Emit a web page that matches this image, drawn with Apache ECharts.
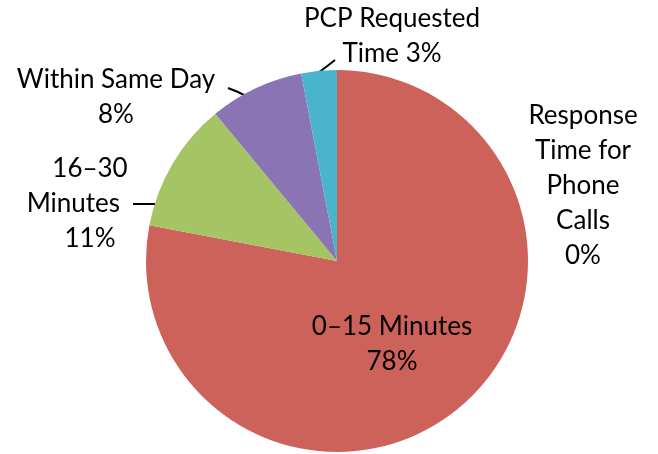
<!DOCTYPE html>
<html><head><meta charset="utf-8">
<script src="https://cdn.jsdelivr.net/npm/echarts@6/dist/echarts.min.js"></script>
<style>html,body{margin:0;padding:0;background:#fff}#c{width:658px;height:454px}</style>
</head><body><div id="c"></div>
<script>
// Data
const categories = ['Response Time for Phone Calls', '0–15 Minutes', '16–30 Minutes', 'Within Same Day', 'PCP Requested Time'];
const values = [0, 78, 11, 8, 3];
const labelTexts = ['Response\nTime for\nPhone\nCalls', '0–15 Minutes', '16–30\nMinutes\u00a0\u00a0\u00a0\u00a0\u00a0', 'Within Same Day', 'PCP Requested\nTime'];
const percentSep = ['\n', '\n', '\n', '\n', ' '];

// Styles
const colors = ['#CD625A', '#CD625A', '#A5C464', '#8A74B4', '#4AB4CC'];
const labelPos = [[583, 186], [392, 344], [90, 204], [116, 97], [392, 36]];
const leaderLines = [null, null, [[133, 204], [144, 204], [155, 204]], [[228, 88], [238, 92], [248, 97]], [[318, 73], [326, 67], [335, 60]]];

const chart = echarts.init(document.getElementById('c'), null, {renderer: 'canvas'});
chart.setOption({
  animation: false,
  series: [{
    type: 'pie',
    center: [337, 261],
    radius: 191,
    startAngle: 90,
    clockwise: true,
    avoidLabelOverlap: false,
    itemStyle: {borderWidth: 0},
    emphasis: {disabled: true},
    label: {
      show: true,
      fontFamily: 'Lato',
      fontSize: 26,
      lineHeight: 35,
      color: '#000',
      align: 'center',
      formatter: p => labelTexts[p.dataIndex] + percentSep[p.dataIndex] + Math.round(p.value) + '%'
    },
    labelLine: {show: true, length: 10, length2: 10, lineStyle: {color: '#000', width: 2}},
    labelLayout: function (params) {
      const i = params.dataIndex;
      const r = {x: labelPos[i][0], y: labelPos[i][1], align: 'center', verticalAlign: 'middle'};
      if (leaderLines[i]) r.labelLinePoints = leaderLines[i];
      return r;
    },
    data: categories.map((c, i) => ({
      name: c,
      value: values[i],
      itemStyle: {color: colors[i]},
      labelLine: {show: !!leaderLines[i]}
    }))
  }]
});
</script></body></html>
